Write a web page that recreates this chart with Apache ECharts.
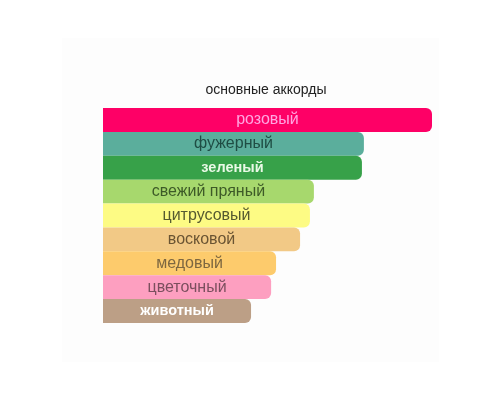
<!DOCTYPE html>
<html>
<head>
<meta charset="utf-8">
<script src="https://cdn.jsdelivr.net/npm/echarts@6/dist/echarts.min.js"></script>
<style>
    html, body { margin: 0; padding: 0; background: #fff; }
    #chart { width: 500px; height: 400px; }
</style>
</head>
<body>
<div id="chart"></div>
<script>
// аккорды, сверху вниз
let accords = ['розовый', 'фужерный', 'зеленый', 'свежий пряный', 'цитрусовый', 'восковой', 'медовый', 'цветочный', 'животный'];
let accordValues = [100, 79.3, 78.7, 64.1, 62.9, 59.9, 52.6, 51.1, 45.0];

let barColors = ['#fe0066', '#5bae9c', '#37a149', '#a7d86d', '#fdfb84', '#f2c986', '#fdcb6c', '#fd9fc0', '#bc9f86'];
let labelColors = ['#ffa6e2', '#1f4d44', '#e9f9e6', '#3d5a27', '#555a30', '#6a5433', '#7d6740', '#7b4f5e', '#ffffff'];
let labelBold = [false, false, true, false, false, false, false, false, true];

let chart = echarts.init(document.getElementById('chart'));

function getOption() {
    let data = accordValues.map((v, i) => {
        return {
            value: v,
            itemStyle: { color: barColors[i] },
            label: {
                color: labelColors[i],
                fontWeight: labelBold[i] ? 'bold' : 'normal',
                fontSize: labelBold[i] ? 14.5 : 16
            }
        };
    });

    return {
        backgroundColor: '#ffffff',
        animation: false,
        title: {
            text: 'основные аккорды',
            left: 266,
            top: 83,
            textAlign: 'center',
            padding: 0,
            textStyle: {
                fontFamily: 'Liberation Sans',
                fontSize: 14,
                fontWeight: 'normal',
                color: '#222'
            }
        },
        graphic: [
            {
                type: 'rect',
                z: -10,
                shape: { x: 62, y: 38, width: 377, height: 324 },
                style: { fill: '#fdfdfd' }
            }
        ],
        grid: {
            left: 103,
            right: 68,
            top: 108,
            bottom: 77
        },
        xAxis: {
            type: 'value',
            min: 0,
            max: 100,
            show: false
        },
        yAxis: {
            type: 'category',
            inverse: true,
            data: accords,
            show: false
        },
        series: [
            {
                type: 'bar',
                barCategoryGap: 0,
                data: data,
                itemStyle: {
                    borderRadius: [0, 6, 6, 0]
                },
                label: {
                    show: true,
                    position: 'inside',
                    fontFamily: 'Liberation Sans',
                    fontSize: 16,
                    formatter: p => accords[p.dataIndex]
                }
            }
        ]
    };
}

chart.setOption(getOption());
</script>
</body>
</html>
